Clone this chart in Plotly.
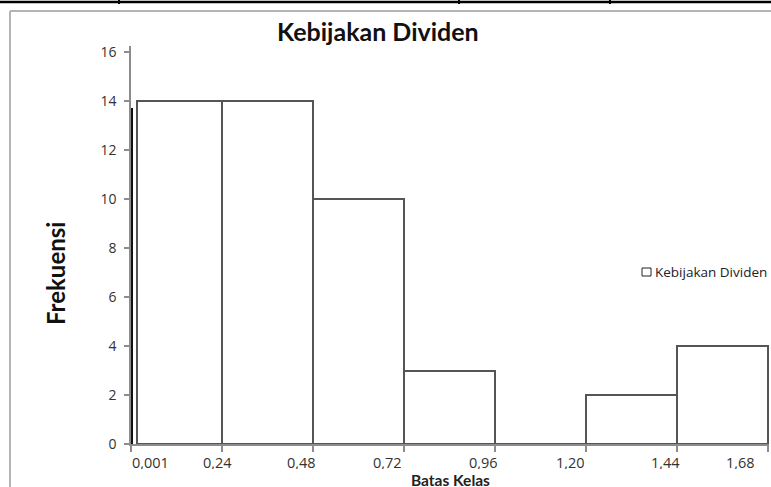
import plotly.graph_objects as go

# Histogram classes: lower / upper class boundary and frequency of each class
bin_lower = [0.000, 0.016, 0.24, 0.48, 0.72, 0.96, 1.20, 1.44]
bin_upper = [0.004, 0.240, 0.48, 0.72, 0.96, 1.20, 1.44, 1.68]
frekuensi = [13.7, 14, 14, 10, 3, 0, 2, 4]

# Class boundaries shown on the x axis and their labels
class_edges = [0.0, 0.24, 0.48, 0.72, 0.96, 1.20, 1.44, 1.68]
tick_labels = ["0,001", "0,24", "0,48", "0,72", "0,96", "1,20", "1,44", "1,68"]
y_ticks = [0, 2, 4, 6, 8, 10, 12, 14, 16]

series_name = "Kebijakan Dividen"

centers = [(a + b) / 2 for a, b in zip(bin_lower, bin_upper)]
widths = [b - a for a, b in zip(bin_lower, bin_upper)]

W, H = 771, 487
L, R, T, B = 131, 2, 46, 43
PW, PH = W - L - R, H - T - B


def px_x(px):
    return (px - L) / PW


def px_y(py):
    return (H - B - py) / PH


fig = go.Figure()

# narrow first class drawn solid
fig.add_trace(go.Bar(
    x=centers[:1], y=frekuensi[:1], width=widths[:1],
    marker=dict(color="#111111", line=dict(width=0)),
    showlegend=False, name=series_name,
))
# remaining classes: white columns with dark outline
fig.add_trace(go.Bar(
    x=centers[1:], y=frekuensi[1:], width=widths[1:],
    marker=dict(color="white", line=dict(color="#555555", width=2)),
    showlegend=False, name=series_name,
))

axis_grey = "#8c8c8c"
fig.update_layout(
    width=W, height=H,
    margin=dict(l=L, r=R, t=T, b=B),
    paper_bgcolor="white", plot_bgcolor="white",
    bargap=0,
    xaxis=dict(
        range=[0, 1.683], tickvals=class_edges, showticklabels=False,
        ticks="outside", ticklen=6, tickwidth=1.5, tickcolor=axis_grey,
        showline=True, linecolor=axis_grey, linewidth=1.5,
        showgrid=False, zeroline=False,
    ),
    yaxis=dict(
        range=[0, 16.25], tickvals=y_ticks,
        ticks="outside", ticklen=5, tickwidth=1.5, tickcolor=axis_grey,
        ticklabelstandoff=5,
        tickfont=dict(family="Open Sans", size=14, color="#333333"),
        showline=True, linecolor=axis_grey, linewidth=1.5,
        showgrid=False, zeroline=False,
    ),
)

# x tick labels
label_px = [150, 217, 301, 387, 483, 570, 665, 740]
for lbl, lx in zip(tick_labels, label_px):
    fig.add_annotation(
        x=px_x(lx), y=px_y(462), xref="paper", yref="paper",
        text=lbl, showarrow=False, xanchor="center", yanchor="middle",
        borderpad=0, height=14,
        font=dict(family="Open Sans", size=14.5, color="#333333"),
    )

# titles
fig.add_annotation(
    x=px_x(378), y=px_y(31), xref="paper", yref="paper",
    text="<b>Kebijakan Dividen</b>", showarrow=False,
    xanchor="center", yanchor="middle",
    font=dict(family="Lato", size=25, color="#111111"),
)
fig.add_annotation(
    x=px_x(55), y=px_y(274), xref="paper", yref="paper",
    text="<b>Frekuensi</b>", showarrow=False, textangle=-90,
    xanchor="center", yanchor="middle",
    font=dict(family="Lato", size=24, color="#111111"),
)
fig.add_annotation(
    x=px_x(450), y=px_y(479), xref="paper", yref="paper",
    text="<b>Batas Kelas</b>", showarrow=False,
    xanchor="center", yanchor="middle", borderpad=0, height=15,
    font=dict(family="Lato", size=15.5, color="#222222"),
)

# legend
fig.add_shape(
    type="rect", xref="paper", yref="paper",
    x0=px_x(642), x1=px_x(651), y0=px_y(276), y1=px_y(268),
    line=dict(color="#222222", width=1), fillcolor="white",
)
fig.add_annotation(
    x=px_x(653), y=px_y(272), xref="paper", yref="paper",
    text=series_name, showarrow=False, xanchor="left", yanchor="middle",
    font=dict(family="Open Sans", size=13.5, color="#222222"),
)

# chart frame (top and left edges) and the rule above it
fig.add_shape(type="line", xref="paper", yref="paper",
              x0=px_x(10), x1=px_x(772), y0=px_y(11), y1=px_y(11),
              line=dict(color="#b4b4b4", width=2))
fig.add_shape(type="line", xref="paper", yref="paper",
              x0=px_x(10), x1=px_x(10), y0=px_y(11), y1=px_y(488),
              line=dict(color="#b4b4b4", width=2))
fig.add_shape(type="line", xref="paper", yref="paper",
              x0=px_x(-1), x1=px_x(772), y0=px_y(2), y1=px_y(2),
              line=dict(color="#000000", width=2.5))
for sx in (119, 459, 610):
    fig.add_shape(type="line", xref="paper", yref="paper",
                  x0=px_x(sx), x1=px_x(sx), y0=px_y(-1), y1=px_y(4),
                  line=dict(color="#000000", width=2))

fig.write_html("out.html")
